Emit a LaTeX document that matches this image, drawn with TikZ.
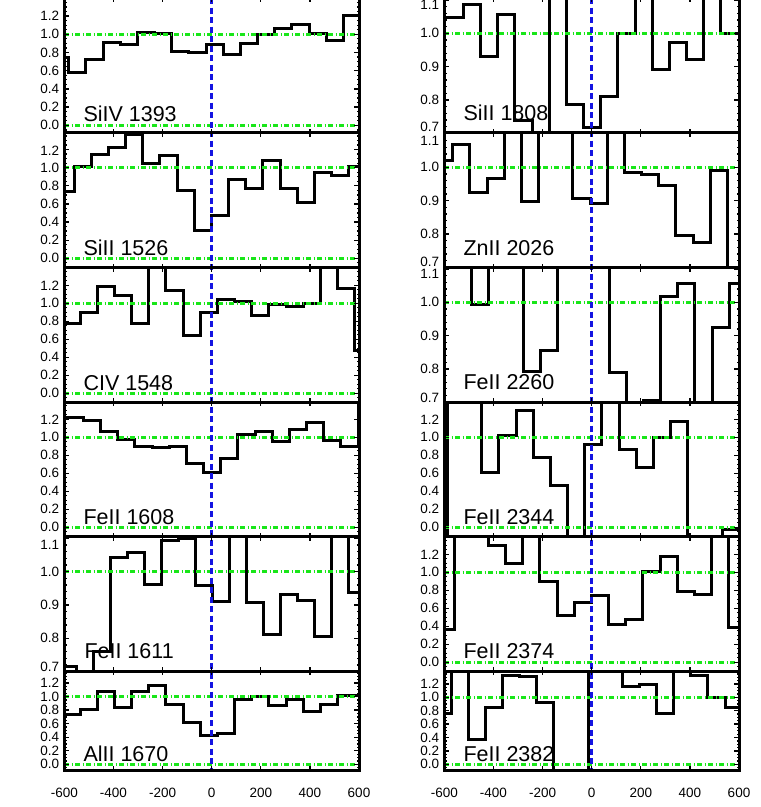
\documentclass[tikz,border=0pt]{standalone}
\usepackage{fontspec}
\setmainfont{Liberation Sans}
\definecolor{pgreen}{RGB}{25,230,25}
\definecolor{pblue}{RGB}{20,20,225}
\tikzset{
  histline/.style={line width=3pt, line join=miter, line cap=butt},
  frameline/.style={line width=3pt, line cap=rect},
  tickline/.style={line width=1.3pt},
  greenline/.style={pgreen, line width=2.5pt, dash pattern=on 5pt off 2.2pt on 1.6pt off 2.2pt},
  blueline/.style={pblue, line width=2.5pt, dash pattern=on 6pt off 3.5pt},
  ylab/.style={anchor=east, inner sep=0pt, font=\fontsize{13.5}{14}\selectfont},
  xlab/.style={anchor=center, inner sep=0pt, font=\fontsize{13.5}{14}\selectfont},
  ionlab/.style={anchor=base west, inner sep=0pt, font=\fontsize{21.5}{24}\selectfont},
}
% step histogram: x0, bin width, first level, remaining levels
\newcommand\hist[4]{%
  \draw[histline] (#1,#3) \foreach \yy [count=\ii] in {#4} { -| ({#1+\ii*#2},\yy) } -- ++(#2,0);}
% clipped histogram: xl, ytop, xr, ybot, x0, w, first, rest
\newcommand\panelhist[8]{%
  \begin{scope}\clip (#1,#2) rectangle (#3,#4); \hist{#5}{#6}{#7}{#8}\end{scope}}
% ticks for 0.0-1.2 panels: xl, xr, ytop, ybot, yzero, scale
\newcommand\ticksA[6]{%
  \begin{scope}\clip (#1,#3) rectangle (#2,#4);
  \foreach \kk in {-4,...,32} {
    \pgfmathsetmacro\yt{#5-#6*\kk*0.05}
    \pgfmathsetmacro\len{ifthenelse(mod(\kk,4)==0,5,2.5)}
    \draw[tickline] (#1,\yt) -- ++(\len,0) (#2,\yt) -- ++(-\len,0);
  }
  \foreach \mm in {1,...,5} {
    \pgfmathsetmacro\xt{#1+\mm*(#2-#1)/6}
    \draw[tickline] (\xt,#3) -- ++(0,4) (\xt,#4) -- ++(0,-4);
  }
  \end{scope}}
% ticks for 0.7-1.1 panels: xl, xr, ytop, ybot, yone, scale
\newcommand\ticksB[6]{%
  \begin{scope}\clip (#1,#3) rectangle (#2,#4);
  \foreach \kk in {32,...,58} {
    \pgfmathsetmacro\yt{#5-#6*(\kk*0.02-1)}
    \pgfmathsetmacro\len{ifthenelse(mod(\kk,5)==0,5,2.5)}
    \draw[tickline] (#1,\yt) -- ++(\len,0) (#2,\yt) -- ++(-\len,0);
  }
  \foreach \mm in {1,...,5} {
    \pgfmathsetmacro\xt{#1+\mm*(#2-#1)/6}
    \draw[tickline] (\xt,#3) -- ++(0,4) (\xt,#4) -- ++(0,-4);
  }
  \end{scope}}
\newcommand\greenA[4]{\draw[greenline] (#1,#3) -- (#2,#3) (#1,{#3-#4}) -- (#2,{#3-#4});}
\newcommand\greenB[3]{\draw[greenline] (#1,#3) -- (#2,#3);}
\begin{document}
\begin{tikzpicture}[x=1pt,y=-1pt]
\useasboundingbox (0,0) rectangle (761,807);

% ---------- histograms, left column ----------
\panelhist{64.3}{-2}{359}{132.7}{51.6}{17.17}{57.3}{72.7,59,42,44,32,33,51,52.3,44.3,54.7,43,34.7,28,24.7,33,40.3,15}
\panelhist{64.3}{132.7}{359}{267.7}{56.83}{17.17}{191}{166.7,154,147.7,134.3,163.3,155.3,190,230,215.7,179,188.3,160.7,188.7,202.7,172.7,175.7,166.7}
\panelhist{64.3}{267.7}{359}{402}{62.83}{17.17}{323.3}{312.3,286.7,295,323.3,250,290,335,312.7,299.7,301,315.7,304.3,306.7,303.3,250,288.3,350}
\panelhist{64.3}{402}{359}{536.7}{49}{17.17}{417.7}{417.7,420.7,431.7,439.3,446.7,447.7,446,463.3,472.3,458.3,434.3,431.7,441.7,429.3,422.7,440.7,446,405}
\panelhist{64.3}{536.7}{359}{671.3}{59.7}{17.0}{666.7}{690,651.7,557.3,552.7,584,540.7,538.5,585,601.7,520,602.7,634.3,594,600,636.7,520,592.3}
\panelhist{64.3}{671.3}{359}{770}{62.83}{17.17}{714}{709,691,707.7,691,685,704,722.7,735.7,733.3,699.3,696,705.7,699.3,711.7,704,695.7,695.7}

% ---------- histograms, right column ----------
\panelhist{444.3}{-2}{739}{132.7}{429}{17.17}{17.3}{17.3,4,56,14,120.7,140,-10,104.3,127.3,96.7,33.3,-10,69.3,42.3,59.3,-10,33.3,33.3}
\panelhist{444.3}{132.7}{739}{267.7}{435.5}{17.17}{160}{144,192.3,178.3,120,201.7,120,120,198.3,203.3,120,172.3,174.3,185,235,242.7,170.7,285}
\panelhist{444.3}{267.7}{739}{402}{437.33}{17.17}{250}{250,304.3,250,250,371,350,250,250,250,372.7,420,400,296,283.3,420,327.3,283.3}
\panelhist{444.3}{402}{739}{536.7}{430.17}{17.17}{550}{390,390,472.3,435,410,457.7,485.7,550,444,390,449,467.7,437.3,421.7,550,550,529.3}
\panelhist{444.3}{536.7}{739}{671.3}{436.83}{17.17}{629}{520,520,545,563.3,520,581,615.7,602.7,595,624,619.3,571.7,556,591,594,520,627.7}
\panelhist{444.3}{671.3}{739}{770}{433.9}{17.125}{713.3}{660,739,707.3,675,676.7,702.7,780,780,660,660,686.7,684,713.3,660,675,697.3,707.3}

% ---------- green reference lines ----------
\greenA{64.3}{359}{125.3}{91}
\greenA{64.3}{359}{258.3}{90.6}
\greenA{64.3}{359}{393.3}{90}
\greenA{64.3}{359}{527.3}{90}
\greenB{64.3}{359}{571.7}
\greenA{64.3}{359}{764.3}{67.7}
\greenB{444.3}{739}{33.3}
\greenB{444.3}{739}{167.3}
\greenB{444.3}{739}{302.3}
\greenA{444.3}{739}{527.3}{90}
\greenA{444.3}{739}{662.3}{90}
\greenA{444.3}{739}{764.3}{67}

% ---------- blue zero-velocity lines ----------
\draw[blueline] (211.6,-2) -- (211.6,771);
\draw[blueline] (591.6,-2) -- (591.6,771);

% ---------- ticks ----------
\ticksA{64.3}{359}{-2}{132.7}{125.3}{91}
\ticksA{64.3}{359}{132.7}{267.7}{258.3}{90.6}
\ticksA{64.3}{359}{267.7}{402}{393.3}{90}
\ticksA{64.3}{359}{402}{536.7}{527.3}{90}
\ticksB{64.3}{359}{536.7}{671.3}{571.7}{333.3}
\ticksA{64.3}{359}{671.3}{770}{764.3}{67.7}
\ticksB{444.3}{739}{-2}{132.7}{33.3}{333.3}
\ticksB{444.3}{739}{132.7}{267.7}{167.3}{334}
\ticksB{444.3}{739}{267.7}{402}{302.3}{333}
\ticksA{444.3}{739}{402}{536.7}{527.3}{90}
\ticksA{444.3}{739}{536.7}{671.3}{662.3}{90}
\ticksA{444.3}{739}{671.3}{770}{764.3}{67}

% ---------- frames ----------
\foreach \xa/\xb in {64.3/359,444.3/739} {
  \draw[frameline] (\xa,-3) -- (\xa,770) -- (\xb,770) -- (\xb,-3);
  \foreach \yb in {132.7,267.7,402,536.7,671.3}
    \draw[frameline] (\xa,\yb) -- (\xb,\yb);
}

% ---------- y tick labels ----------
\foreach \lab/\yy [count=\nn] in {1.2/16.1,1.0/34.3,0.8/52.5,0.6/70.7,0.4/88.9,0.2/107.1,0.0/125.3}
  \node[ylab] (yA\nn) at (59.3,\yy) {\lab};
\foreach \lab/\yy [count=\nn] in {1.2/150.6,1.0/167.7,0.8/185.8,0.6/203.9,0.4/222.1,0.2/240.2,0.0/258.3}
  \node[ylab] (yB\nn) at (59.3,\yy) {\lab};
\foreach \lab/\yy [count=\nn] in {1.2/285.3,1.0/303.3,0.8/321.3,0.6/339.3,0.4/357.3,0.2/375.3,0.0/393.3}
  \node[ylab] (yC\nn) at (59.3,\yy) {\lab};
\foreach \lab/\yy [count=\nn] in {1.2/419.3,1.0/437.3,0.8/455.3,0.6/473.3,0.4/491.3,0.2/509.3,0.0/527.3}
  \node[ylab] (yD\nn) at (59.3,\yy) {\lab};
\foreach \lab/\yy [count=\nn] in {1.1/545,1.0/571.7,0.9/605,0.8/638.3,0.7/666.7}
  \node[ylab] (yE\nn) at (59.3,\yy) {\lab};
\foreach \lab/\yy [count=\nn] in {1.2/683.1,1.0/696.6,0.8/710.1,0.6/723.7,0.4/737.2,0.2/750.8,0.0/764.3}
  \node[ylab] (yF\nn) at (59.3,\yy) {\lab};
\foreach \lab/\yy [count=\nn] in {1.1/5,1.0/33.3,0.9/66.7,0.8/100,0.7/127}
  \node[ylab] (yG\nn) at (439.3,\yy) {\lab};
\foreach \lab/\yy [count=\nn] in {1.1/140.5,1.0/167.3,0.9/200.7,0.8/234.1,0.7/262}
  \node[ylab] (yH\nn) at (439.3,\yy) {\lab};
\foreach \lab/\yy [count=\nn] in {1.1/274,1.0/302.3,0.9/335.6,0.8/368.9,0.7/397.5}
  \node[ylab] (yI\nn) at (439.3,\yy) {\lab};
\foreach \lab/\yy [count=\nn] in {1.2/419.3,1.0/437.3,0.8/455.3,0.6/473.3,0.4/491.3,0.2/509.3,0.0/527.3}
  \node[ylab] (yJ\nn) at (439.3,\yy) {\lab};
\foreach \lab/\yy [count=\nn] in {1.2/554.3,1.0/572.3,0.8/590.3,0.6/608.3,0.4/626.3,0.2/644.3,0.0/662.3}
  \node[ylab] (yK\nn) at (439.3,\yy) {\lab};
\foreach \lab/\yy [count=\nn] in {1.2/683.9,1.0/697.3,0.8/710.7,0.6/724.1,0.4/737.5,0.2/750.9,0.0/764.3}
  \node[ylab] (yL\nn) at (439.3,\yy) {\lab};

% ---------- x tick labels ----------
\foreach \lab [count=\nn from 0] in {-600,-400,-200,0,200,400,600} {
  \node[xlab] (xL\nn) at ({64.3+\nn*49.117},793) {\lab};
  \node[xlab] (xR\nn) at ({444.3+\nn*49.117},793) {\lab};
}

% ---------- line labels ----------
\node[ionlab] (labP1) at (83.3,121.7) {SiIV 1393};
\node[ionlab] (labP2) at (83.3,255.7) {SiII 1526};
\node[ionlab] (labP3) at (83.3,390) {CIV 1548};
\node[ionlab] (labP4) at (83.3,524.3) {FeII 1608};
\node[ionlab] (labP5) at (84.3,658.3) {FeII 1611};
\node[ionlab] (labP6) at (83.3,761.7) {AlII 1670};
\node[ionlab] (labR1) at (463.3,120.7) {SiII 1808};
\node[ionlab] (labR2) at (463.3,255) {ZnII 2026};
\node[ionlab] (labR3) at (463.3,389) {FeII 2260};
\node[ionlab] (labR4) at (463.3,524.3) {FeII 2344};
\node[ionlab] (labR5) at (463.3,658.3) {FeII 2374};
\node[ionlab] (labR6) at (463.3,761.7) {FeII 2382};
\end{tikzpicture}
\end{document}
